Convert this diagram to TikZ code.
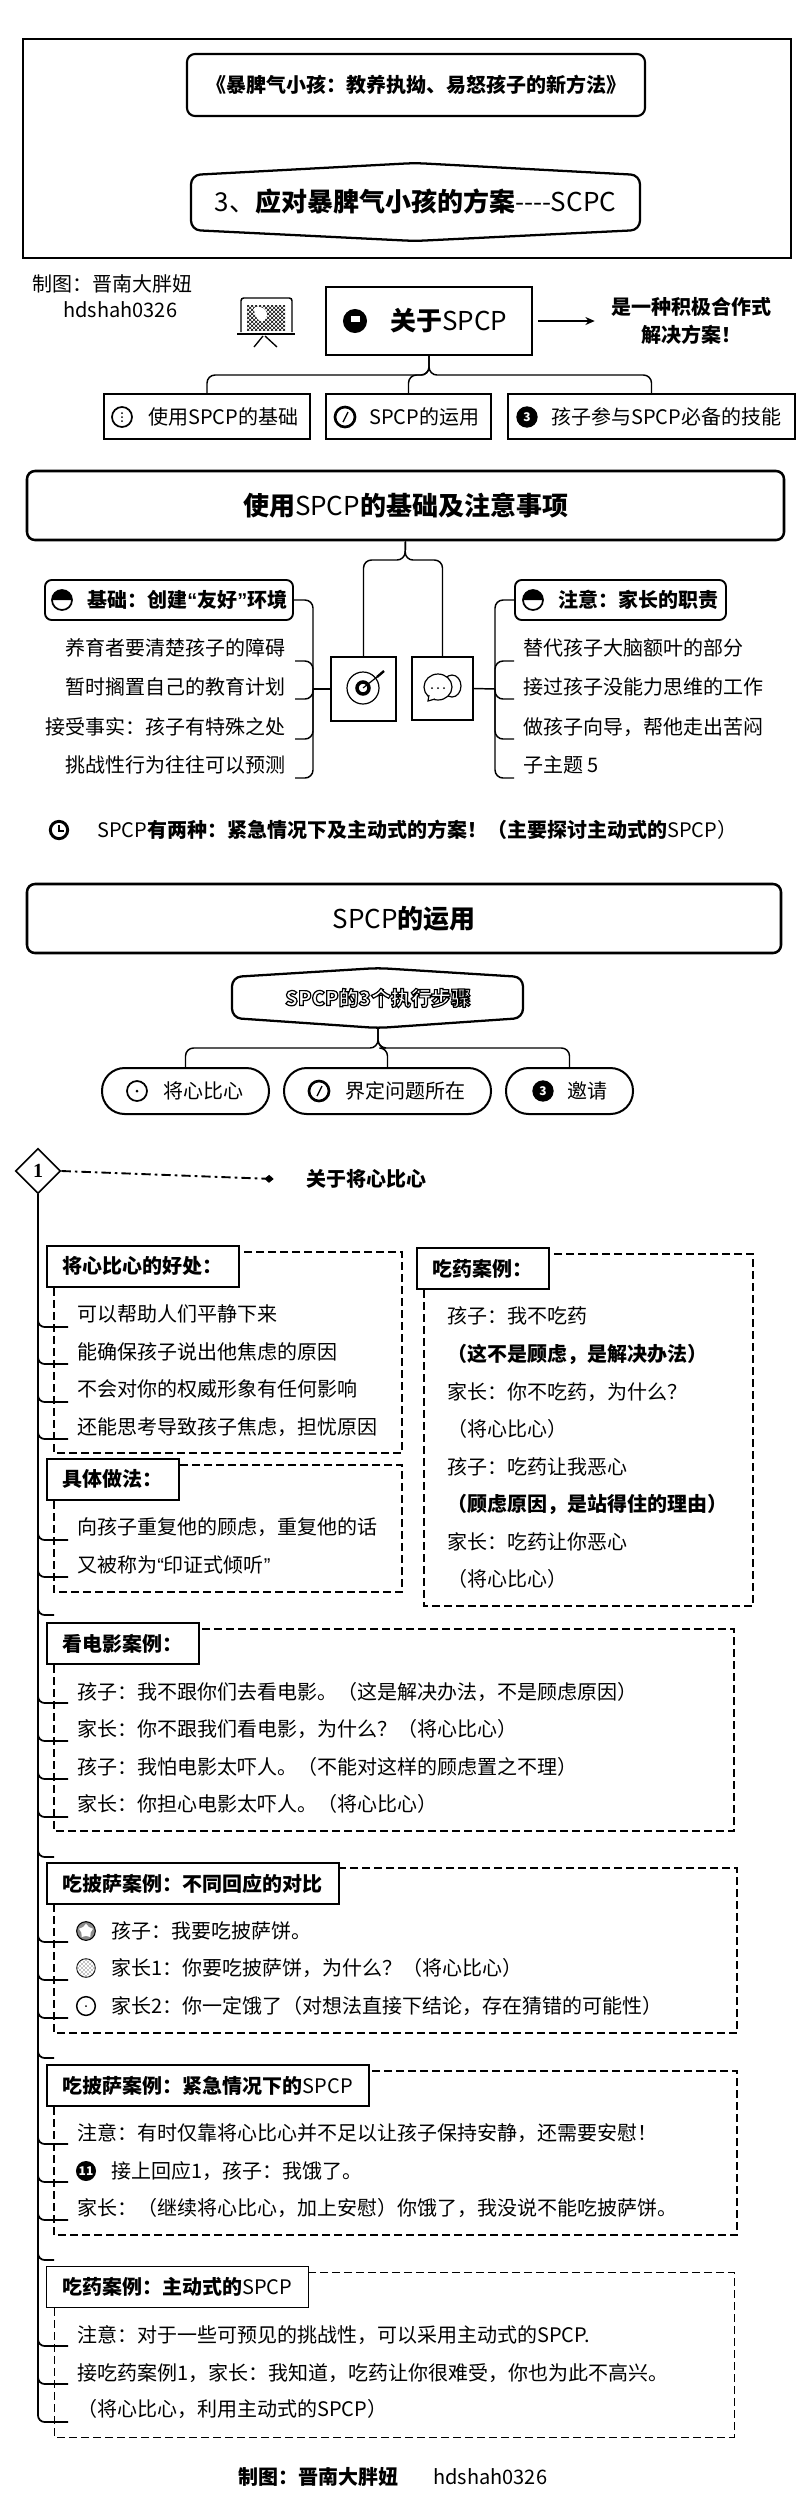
\documentclass[tikz,border=0pt]{standalone}
\usepackage{fontspec}
\usepackage{xcolor}
\setmainfont{Noto Sans CJK SC}
\newfontfamily\numfont{Liberation Serif}
\newfontfamily\quotefont{Liberation Sans}
\usetikzlibrary{positioning,shapes.geometric,arrows.meta,patterns}
\newcommand{\hollowtext}[1]{\textcolor{white}{\special{pdf:code 0 0 0 RG 2 Tr 0.9 w}#1\special{pdf:code 0 Tr}}}

\begin{document}
\begin{tikzpicture}[x=0.75pt,y=-0.75pt,
  cjk/.style={font=\fontsize{15}{18}\selectfont},
  bigtext/.style={font=\fontsize{19.5}{23}\selectfont},
  panel/.style={draw,line width=1.9pt,rounded corners=6pt,fill=white,inner sep=0pt},
  plainbox/.style={draw,line width=1.6pt,fill=white,inner sep=0pt},
  sidebox/.style={draw,line width=1.4pt,rounded corners=5pt,fill=white,inner sep=0pt},
  pillbox/.style={draw,line width=1.5pt,rounded corners=17pt,fill=white,inner sep=0pt},
  capbox/.style={draw,line width=1.3pt,fill=white,anchor=north west,inner xsep=12pt,inner ysep=0pt,minimum height=30.75pt,cjk,font=\fontsize{15}{18}\selectfont\bfseries},
  listtext/.style={anchor=west,inner sep=0pt,cjk},
  leftlist/.style={anchor=east,inner sep=0pt,cjk},
  linktree/.style={line width=1.1pt,rounded corners=6pt},
  trunk/.style={line width=1.3pt,rounded corners=5pt},
  holdframe/.style={dashed,dash pattern=on 6pt off 3pt,line width=#1},
  markring/.style={circle,draw,line width=1.3pt,minimum size=15pt,inner sep=0pt,fill=white},
  markfull/.style={circle,draw,fill=black,text=white,line width=1pt,minimum size=15pt,inner sep=0pt,font=\fontsize{9}{9}\selectfont\bfseries}]
  \useasboundingbox (0,0) rectangle (800,2510);

  % cover
  \node[plainbox,line width=2.2pt,minimum width=576pt,minimum height=164.25pt] (cover) at (407,148.5) {};
  \node[panel,line width=1.6pt,minimum width=343.5pt,minimum height=46.5pt,cjk,font=\fontsize{15}{18}\selectfont\bfseries] (booktitle) at (416,85) {《暴脾气小孩：教养执拗、易怒孩子的新方法》};
  \draw[line width=1.7pt,rounded corners=7pt] (191,175) -- (415,163) -- (640,175) -- (640,230) -- (415,241) -- (191,230) -- cycle;
  \node[inner sep=0pt,bigtext] (plan) at (415.5,202) {3、\textbf{应对暴脾气小孩的方案}-{}-{}-{}-SCPC};
  \node[listtext] (maker) at (32,284) {制图：晋南大胖妞};
  \node[listtext] (makerid) at (63,310) {hdshah0326};

  % about
  \node[plainbox,minimum width=154.5pt,minimum height=51pt] (about) at (429,321) {};
  \node[markfull,minimum size=17pt] (aboutmark) at (355,321) {};
  \fill[white] (351,316) rectangle (360,322);
  \node[listtext,bigtext] (abouttext) at (390,321) {\textbf{关于}SPCP};
  \node[align=center,inner xsep=12pt,inner ysep=0pt,cjk,font=\fontsize{15}{21}\selectfont\bfseries] (aboutnote) at (691,321) {是一种积极合作式\\解决方案！};
  \draw[line width=1.5pt,-{Stealth[length=7pt,width=6pt]},shorten <=4pt] (about.east) -- (aboutnote.west);

  % board icon
  \draw[line width=1.1pt,rounded corners=2pt] (241,332) -- (241,298) -- (292,298) -- (292,332);
  \path[pattern=crosshatch] (247,305) rectangle (285,330);
  \fill[white] (254,308) .. controls (262,304) and (270,312) .. (266,318) .. controls (262,326) and (254,318) .. (254,308);
  \draw[line width=1.6pt] (237,334) -- (295,334);
  \draw[line width=1pt] (263,336) -- (254,347) (265,336) -- (277,347);

  \node[plainbox,minimum width=154.5pt,minimum height=33.75pt] (usebase) at (207,416.5) {};
  \node[plainbox,minimum width=123.75pt,minimum height=33.75pt] (useplan) at (408.5,416.5) {};
  \node[plainbox,minimum width=215.25pt,minimum height=33.75pt] (useskill) at (651.5,416.5) {};
  \node[markring] (usebasemark) at (122,417) {};
  \fill (122,413) circle (1) (122,417) circle (1) (122,421) circle (1);
  \node[listtext] (usebasetext) at (148,417) {使用SPCP的基础};
  \node[markring,line width=2pt] (useplanmark) at (345,417) {};
  \draw[line width=1pt] (343,422) -- (348,412);
  \node[listtext] (useplantext) at (369,417) {SPCP的运用};
  \node[markfull] (useskillmark) at (527,417) {3};
  \node[listtext] (useskilltext) at (551,417) {孩子参与SPCP必备的技能};
  \coordinate (aboutfork) at (429,375);
  \draw[linktree] (about.south) -- (aboutfork) -| (usebase.north);
  \draw[linktree] (about.south) -- (aboutfork) -| (useplan.north);
  \draw[linktree] (about.south) -- (aboutfork) -| (useskill.north);

  % base and notes
  \node[panel,minimum width=567.75pt,minimum height=51.75pt,bigtext] (basehead) at (405.5,505.5) {\textbf{使用}SPCP\textbf{的基础及注意事项}};
  \node[plainbox,minimum width=48.75pt,minimum height=48pt] (target) at (363.5,689) {};
  \node[plainbox,minimum width=45.75pt,minimum height=47.25pt] (chat) at (442.5,688.5) {};
  \coordinate (basefork) at (405,560);
  \draw[linktree] (basehead.south) -- (basefork) -| (target.north);
  \draw[linktree] (basehead.south) -- (basefork) -| (chat.north);
  % target icon
  \draw[line width=0.9pt] (363,688) circle (16);
  \draw[line width=2.6pt] (363,688) circle (6);
  \draw[line width=0.9pt] (363,688) -- (382,673);
  \draw[line width=1.8pt] (377,677) -- (384,671);
  % chat icon
  \draw[line width=0.9pt] (452,686) ellipse (9 and 11);
  \fill[white] (438,687) ellipse (14 and 13);
  \draw[line width=0.9pt] (438,687) ellipse (14 and 13);
  \draw[line width=0.9pt,fill=white] (429,695) -- (428,701) -- (435,699);
  \fill (432,688) circle (1) (438,688) circle (1) (444,688) circle (1);

  \node[sidebox,minimum width=186pt,minimum height=30pt] (basecap) at (169,600) {};
  \node[markring] (basecapmark) at (62,600) {};
  \fill (62,600) -- (52,600) arc (180:360:10) -- cycle;
  \node[listtext,font=\fontsize{15}{18}\selectfont\bfseries] (basecaptext) at (87,600) {基础：创建{\quotefont “}友好{\quotefont ”}环境};
  \node[sidebox,minimum width=158.25pt,minimum height=30pt] (notecap) at (620.5,600) {};
  \node[markring] (notecapmark) at (533,600) {};
  \fill (533,600) -- (523,600) arc (180:360:10) -- cycle;
  \node[listtext,font=\fontsize{15}{18}\selectfont\bfseries] (notecaptext) at (558,600) {注意：家长的职责};

  \node[leftlist] (basea) at (286,648) {养育者要清楚孩子的障碍};
  \node[leftlist] (baseb) at (286,687) {暂时搁置自己的教育计划};
  \node[leftlist] (basec) at (286,727) {接受事实：孩子有特殊之处};
  \node[leftlist] (based) at (286,765) {挑战性行为往往可以预测};
  \node[listtext] (notea) at (523,648) {替代孩子大脑额叶的部分};
  \node[listtext] (noteb) at (523,687) {接过孩子没能力思维的工作};
  \node[listtext] (notec) at (523,727) {做孩子向导，帮他走出苦闷};
  \node[listtext] (noted) at (523,765) {子主题 5};

  \coordinate (basehub) at (313,689);
  \coordinate (baselinea) at (295,661); \coordinate (baselineb) at (295,699);
  \coordinate (baselinec) at (295,739); \coordinate (baselined) at (295,778);
  \draw[linktree] (target.west) -- (basehub);
  \draw[linktree] (basehub) |- (basecap.east);
  \draw[linktree] (basehub) |- (baselinea);
  \draw[linktree] (basehub) |- (baselineb);
  \draw[linktree] (basehub) |- (baselinec);
  \draw[linktree] (basehub) |- (baselined);
  \coordinate (notehub) at (495,689);
  \coordinate (notelinea) at (514,661); \coordinate (notelineb) at (514,699);
  \coordinate (notelinec) at (514,739); \coordinate (notelined) at (514,778);
  \draw[linktree] (chat.east) -- (notehub);
  \draw[linktree] (notehub) |- (notecap.west);
  \draw[linktree] (notehub) |- (notelinea);
  \draw[linktree] (notehub) |- (notelineb);
  \draw[linktree] (notehub) |- (notelinec);
  \draw[linktree] (notehub) |- (notelined);

  \node[markring,line width=2.2pt,minimum size=13pt] (kindsmark) at (59,830) {};
  \draw[line width=0.9pt] (59,825) -- (59,831) -- (64,831);
  \node[listtext] (kinds) at (97,830) {SPCP\textbf{有两种：紧急情况下及主动式的方案！（主要探讨主动式的}SPCP）};

  % use of the plan
  \node[panel,minimum width=565.5pt,minimum height=51.75pt,bigtext] (usehead) at (404,918.5) {SPCP\textbf{的运用}};
  \draw[line width=1.7pt,rounded corners=7pt] (232,977) -- (378,968) -- (523,977) -- (523,1018) -- (378,1028) -- (232,1018) -- cycle;
  \node[minimum width=218pt,minimum height=45pt,inner sep=0pt,cjk,font=\fontsize{15}{18}\selectfont\bfseries] (steps) at (378,998) {\hollowtext{SPCP的3个执行步骤}};
  \node[pillbox,minimum width=125.25pt,minimum height=34.5pt] (stepa) at (185.5,1091) {};
  \node[pillbox,minimum width=155.25pt,minimum height=34.5pt] (stepb) at (387.5,1091) {};
  \node[pillbox,minimum width=95.25pt,minimum height=34.5pt] (stepc) at (569.5,1091) {};
  \node[markring] (stepamark) at (137,1091) {};
  \fill (137,1091) circle (1.5);
  \node[listtext] (stepatext) at (163,1091) {将心比心};
  \node[markring,line width=2pt] (stepbmark) at (319,1091) {};
  \draw[line width=1pt] (317,1096) -- (322,1086);
  \node[listtext] (stepbtext) at (345,1091) {界定问题所在};
  \node[markfull] (stepcmark) at (543,1091) {3};
  \node[listtext] (stepctext) at (567,1091) {邀请};
  \coordinate (stepfork) at (378,1048);
  \draw[linktree] (steps.south) -- (stepfork) -| (stepa.north);
  \draw[linktree] (steps.south) -- (stepfork) -| (stepb.north);
  \draw[linktree] (steps.south) -- (stepfork) -| (stepc.north);

  \node[diamond,draw,line width=1.2pt,aspect=1,minimum size=34pt,inner sep=0pt,font=\numfont\fontsize{15}{15}\selectfont\bfseries] (one) at (38,1171) {1};
  \node[inner xsep=24pt,inner ysep=0pt,cjk,font=\fontsize{15}{18}\selectfont\bfseries] (onetitle) at (366,1179) {关于将心比心};
  \draw[line width=1.4pt,dash pattern=on 7pt off 3pt on 2pt off 3pt,-{Diamond[length=7pt,width=6pt]}] (one.east) -- (onetitle.west);

  % dashed frames
  \draw[holdframe=1pt] (54,1252) rectangle (402,1453);
  \draw[holdframe=0.9pt] (54,1465) rectangle (402,1592);
  \draw[holdframe=1.1pt] (424,1254) rectangle (753,1606);
  \draw[holdframe=1.3pt] (54,1629) rectangle (734,1831);
  \draw[holdframe=1.1pt] (54,1868) rectangle (737,2033);
  \draw[holdframe=1.3pt] (54,2071) rectangle (737,2235);
  \draw[holdframe=0.6pt] (54,2272) rectangle (734,2437);

  % trunk
  \coordinate (gaina) at (68,1327); \coordinate (gainb) at (68,1364);
  \coordinate (gainc) at (68,1402); \coordinate (gaind) at (68,1439);
  \coordinate (howa) at (68,1540); \coordinate (howb) at (68,1577);
  \coordinate (filmin) at (54,1615);
  \coordinate (filma) at (68,1703); \coordinate (filmb) at (68,1741);
  \coordinate (filmc) at (68,1779); \coordinate (filmd) at (68,1817);
  \coordinate (pizzain) at (54,1857);
  \coordinate (pizzaa) at (68,1942); \coordinate (pizzab) at (68,1980); \coordinate (pizzac) at (68,2018);
  \coordinate (urgentin) at (54,2058);
  \coordinate (urgenta) at (68,2144); \coordinate (urgentb) at (68,2182); \coordinate (urgentc) at (68,2220);
  \coordinate (activein) at (54,2260);
  \coordinate (activea) at (68,2346); \coordinate (activeb) at (68,2384); \coordinate (activec) at (68,2422);
  \draw[trunk] (one.south) |- (gaina);
  \draw[trunk] (one.south) |- (gainb);
  \draw[trunk] (one.south) |- (gainc);
  \draw[trunk] (one.south) |- (gaind);
  \draw[trunk] (one.south) |- (howa);
  \draw[trunk] (one.south) |- (howb);
  \draw[trunk] (one.south) |- (filmin);
  \draw[trunk] (one.south) |- (filma);
  \draw[trunk] (one.south) |- (filmb);
  \draw[trunk] (one.south) |- (filmc);
  \draw[trunk] (one.south) |- (filmd);
  \draw[trunk] (one.south) |- (pizzain);
  \draw[trunk] (one.south) |- (pizzaa);
  \draw[trunk] (one.south) |- (pizzab);
  \draw[trunk] (one.south) |- (pizzac);
  \draw[trunk] (one.south) |- (urgentin);
  \draw[trunk] (one.south) |- (urgenta);
  \draw[trunk] (one.south) |- (urgentb);
  \draw[trunk] (one.south) |- (urgentc);
  \draw[trunk] (one.south) |- (activein);
  \draw[trunk] (one.south) |- (activea);
  \draw[trunk] (one.south) |- (activeb);
  \draw[trunk] (one.south) |- (activec);

  % benefits
  \node[capbox] (gaincap) at (46,1245) {将心比心的好处：};
  \node[listtext] (gaintexta) at (77,1314) {可以帮助人们平静下来};
  \node[listtext] (gaintextb) at (77,1352) {能确保孩子说出他焦虑的原因};
  \node[listtext] (gaintextc) at (77,1389) {不会对你的权威形象有任何影响};
  \node[listtext] (gaintextd) at (77,1427) {还能思考导致孩子焦虑，担忧原因};
  % how to
  \node[capbox] (howcap) at (46,1458) {具体做法：};
  \node[listtext] (howtexta) at (77,1527) {向孩子重复他的顾虑，重复他的话};
  \node[listtext] (howtextb) at (77,1565) {又被称为{\quotefont “}印证式倾听{\quotefont ”}};
  % medicine
  \node[capbox] (pillcap) at (416,1247) {吃药案例：};
  \node[listtext] (pilla) at (447,1316) {孩子：我不吃药};
  \node[listtext,font=\fontsize{15}{18}\selectfont\bfseries] (pillb) at (447,1354) {（这不是顾虑，是解决办法）};
  \node[listtext] (pillc) at (447,1392) {家长：你不吃药，为什么？};
  \node[listtext] (pilld) at (447,1429) {（将心比心）};
  \node[listtext] (pille) at (447,1467) {孩子：吃药让我恶心};
  \node[listtext,font=\fontsize{15}{18}\selectfont\bfseries] (pillf) at (447,1504) {（顾虑原因，是站得住的理由）};
  \node[listtext] (pillg) at (447,1542) {家长：吃药让你恶心};
  \node[listtext] (pillh) at (447,1579) {（将心比心）};
  % film
  \node[capbox] (filmcap) at (46,1622) {看电影案例：};
  \node[listtext] (filmtexta) at (77,1692) {孩子：我不跟你们去看电影。（这是解决办法，不是顾虑原因）};
  \node[listtext] (filmtextb) at (77,1729) {家长：你不跟我们看电影，为什么？（将心比心）};
  \node[listtext] (filmtextc) at (77,1767) {孩子：我怕电影太吓人。（不能对这样的顾虑置之不理）};
  \node[listtext] (filmtextd) at (77,1804) {家长：你担心电影太吓人。（将心比心）};
  % pizza
  \node[capbox] (pizzacap) at (46,1862) {吃披萨案例：不同回应的对比};
  \node[markring,line width=0.8pt,minimum size=14pt,fill=black!45] (pizzamarka) at (86,1931) {};
  \node[star,fill=white,minimum size=11pt,inner sep=0pt] (pizzastar) at (86,1931) {};
  \node[listtext] (pizzatexta) at (111,1931) {孩子：我要吃披萨饼。};
  \node[markring,line width=0.6pt,minimum size=14pt,pattern=crosshatch dots] (pizzamarkb) at (86,1968) {};
  \node[listtext] (pizzatextb) at (111,1968) {家长1：你要吃披萨饼，为什么？（将心比心）};
  \node[markring,line width=1.1pt,minimum size=14pt] (pizzamarkc) at (86,2006) {};
  \fill (86,2006) circle (1);
  \node[listtext] (pizzatextc) at (111,2006) {家长2：你一定饿了（对想法直接下结论，存在猜错的可能性）};
  % urgent
  \node[capbox] (urgentcap) at (46,2064) {吃披萨案例：紧急情况下的\mdseries SPCP};
  \node[listtext] (urgenttexta) at (77,2133) {注意：有时仅靠将心比心并不足以让孩子保持安静，还需要安慰！};
  \node[markfull,minimum size=14pt] (urgentmark) at (86,2171) {11};
  \node[listtext] (urgenttextb) at (111,2171) {接上回应1，孩子：我饿了。};
  \node[listtext] (urgenttextc) at (77,2208) {家长：（继续将心比心，加上安慰）你饿了，我没说不能吃披萨饼。};
  % active
  \node[capbox,line width=0.6pt] (activecap) at (46,2266) {吃药案例：主动式的\mdseries SPCP};
  \node[listtext] (activetexta) at (77,2335) {注意：对于一些可预见的挑战性，可以采用主动式的SPCP.};
  \node[listtext] (activetextb) at (77,2373) {接吃药案例1，家长：我知道，吃药让你很难受，你也为此不高兴。};
  \node[listtext] (activetextc) at (77,2409) {（将心比心，利用主动式的SPCP）};

  \node[listtext,font=\fontsize{15}{18}\selectfont\bfseries] (footer) at (238,2477) {制图：晋南大胖妞};
  \node[listtext] (footerid) at (433,2477) {hdshah0326};
\end{tikzpicture}
\end{document}
